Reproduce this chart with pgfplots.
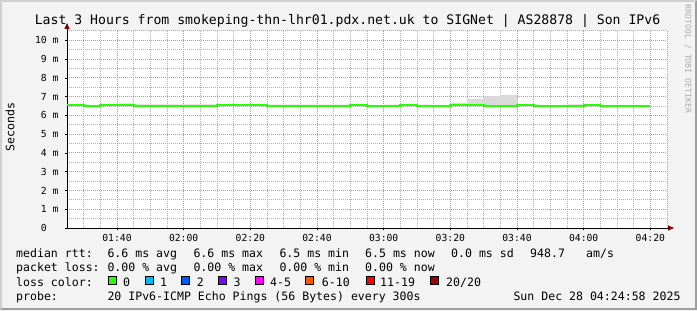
\documentclass[border=0pt]{standalone}
\usepackage{fontspec}
\setmainfont{DejaVu Sans Mono}
\usepackage{pgfplots}
\pgfplotsset{compat=1.18}
\usepgfplotslibrary{fillbetween}
\usetikzlibrary{arrows.meta}
\definecolor{bg}{RGB}{243,243,243}
\definecolor{shadea}{RGB}{207,207,207}
\definecolor{shadeb}{RGB}{158,158,158}
\definecolor{mgrid}{RGB}{238,125,125}
\definecolor{ngrid}{RGB}{175,175,175}
\definecolor{smoke}{RGB}{218,218,218}
\definecolor{med}{RGB}{38,255,0}
\definecolor{arrowred}{RGB}{128,0,0}
\definecolor{lc0}{RGB}{38,255,0}
\definecolor{lc1}{RGB}{0,184,255}
\definecolor{lc2}{RGB}{0,89,255}
\definecolor{lc3}{RGB}{126,0,255}
\definecolor{lc4}{RGB}{255,0,255}
\definecolor{lc5}{RGB}{255,85,0}
\definecolor{lc6}{RGB}{255,0,0}
\definecolor{lc7}{RGB}{161,0,0}
\newcommand\lgf{\fontsize{11.6}{12}\selectfont}
\newcommand\lcbox[2]{\draw[black, line width=0.8bp, fill=#2] (#1,25.5) rectangle ++(8,8);}
\pgfplotstableread{
x y
85 6.57
90 6.50
95 6.57
105 6.52
130 6.57
145 6.50
170 6.57
175 6.50
185 6.57
190 6.50
200 6.57
210 6.50
220 6.57
225 6.50
240 6.57
245 6.50
260 6.50
}\median
\pgfplotstableread{
x y
85 6.60
90 6.53
95 6.60
100 6.64
105 6.59
130 6.60
145 6.58
170 6.60
175 6.53
180 6.58
185 6.60
190 6.58
195 6.53
200 6.66
205 6.88
210 7.02
215 7.08
220 6.60
225 6.53
235 6.59
240 6.60
245 6.53
260 6.53
}\smoketop
\pagecolor{bg}
\begin{document}
\begin{tikzpicture}[x=1bp,y=1bp]
\path (0,0) rectangle (697,310);
\fill[shadea] (0,310) -- (697,310) -- (695,308) -- (2,308) -- (2,2) -- (0,0) -- cycle;
\fill[shadeb] (697,310) -- (697,0) -- (0,0) -- (2,2) -- (695,2) -- (695,308) -- cycle;
\begin{axis}[
  at={(67bp,82bp)}, anchor=south west,
  scale only axis, width=600bp, height=197bp,
  axis background/.style={fill=white},
  xmin=85, xmax=265, ymin=0, ymax=10.5,
  axis x line=bottom, axis y line=left,
  axis line style={black, line width=0.8bp},
  x axis line style={-{Triangle[length=6bp,width=5bp,color=arrowred]}, shorten >=-7bp},
  y axis line style={-{Triangle[length=6bp,width=5bp,color=arrowred]}, shorten >=-8bp},
  xtick={100,120,...,260},
  xticklabels={01:40,02:00,02:20,02:40,03:00,03:20,03:40,04:00,04:20},
  minor xtick={85,90,95,105,110,115,125,130,135,145,150,155,165,170,175,185,190,195,205,210,215,225,230,235,245,250,255,265},
  ytick={0,1,...,10},
  yticklabels={0\hphantom{~m},1~m,2~m,3~m,4~m,5~m,6~m,7~m,8~m,9~m,10~m},
  minor ytick={0.5,1.5,...,10.5},
  grid=both,
  major grid style={mgrid, dash pattern=on 1bp off 1bp, line width=1bp},
  minor grid style={ngrid, dash pattern=on 1bp off 1bp, line width=1bp},
  tick align=outside, major tick length=2bp, minor tick length=0pt,
  tick style={black, line width=0.6bp},
  tick label style={font=\fontsize{9.75}{10}\selectfont},
  yticklabel style={xshift=-3bp},
  xticklabel style={yshift=-1bp},
]
\addplot[const plot mark left, draw=none, name path=smk] table {\smoketop};
\addplot[const plot mark left, draw=none, name path=medp] table {\median};
\addplot[smoke] fill between[of=smk and medp];
\addplot[const plot mark left, med, line width=2.2bp] table {\median};
\end{axis}
\node[anchor=base, inner sep=0, font=\fontsize{13.2}{14}\selectfont] at (347.5,286) {Last 3 Hours from smokeping-thn-lhr01.pdx.net.uk to SIGNet | AS28878 | Son IPv6};
\node[rotate=90, inner sep=0, font=\lgf] at (10,183) {Seconds};
\node[rotate=-90, inner sep=0, text=gray!65, font=\fontsize{8.2}{9}\selectfont] at (688,251) {RRDTOOL / TOBI OETIKER};
\begin{scope}[every node/.style={anchor=base west, inner sep=0, font=\lgf}]
\node at (16,52.5) {median rtt:};
\node at (107.3,52.5) {6.6 ms avg};
\node at (193.3,52.5) {6.6 ms max};
\node at (279.3,52.5) {6.5 ms min};
\node at (365,52.5) {6.5 ms now};
\node at (451,52.5) {0.0 ms sd};
\node at (530,52.5) {948.7};
\node at (586,52.5) {am/s};
\node at (16,38.3) {packet loss:};
\node at (107.3,38.3) {0.00 \% avg};
\node at (193.3,38.3) {0.00 \% max};
\node at (279.3,38.3) {0.00 \% min};
\node at (365,38.3) {0.00 \% now};
\node at (16,24) {loss color:};
\lcbox{108.3}{lc0}\node at (123,24) {0};
\lcbox{145}{lc1}\node at (160,24) {1};
\lcbox{181.7}{lc2}\node at (196.7,24) {2};
\lcbox{218.3}{lc3}\node at (233.3,24) {3};
\lcbox{255}{lc4}\node at (270,24) {4-5};
\lcbox{305}{lc5}\node at (321.7,24) {6-10};
\lcbox{366}{lc6}\node at (380,24) {11-19};
\lcbox{430.7}{lc7}\node at (446,24) {20/20};
\node at (16,10) {probe:};
\node at (107.3,10) {20 IPv6-ICMP Echo Pings (56 Bytes) every 300s};
\node at (513.3,10) {Sun Dec 28 04:24:58 2025};
\end{scope}
\end{tikzpicture}
\end{document}
